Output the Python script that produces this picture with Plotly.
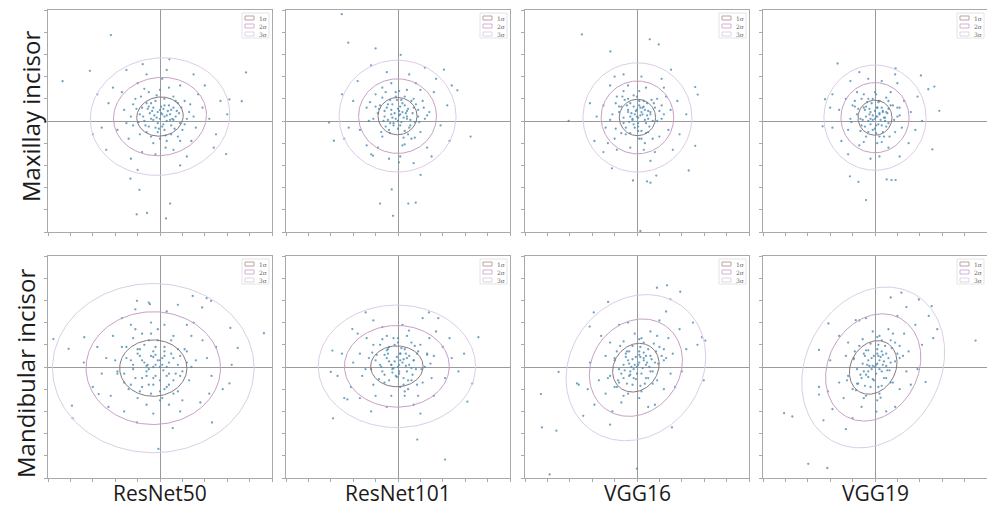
import numpy as np
import plotly.graph_objects as go

# ---------------- data ----------------
row_labels = ["Maxillay incisor", "Mandibular incisor"]
col_labels = ["ResNet50", "ResNet101", "VGG16", "VGG19"]
sigma_labels = ["1σ", "2σ", "3σ"]

# 1-sigma ellipse parameters per panel (row-major order)
ell_cx = [0.0, -0.02, 0.02, 0.0, -0.3, -0.05, -0.05, -0.08]
ell_cy = [0.2, 0.22, 0.16, 0.15, -0.05, 0.03, -0.03, -0.02]
ell_a = [1.04, 0.87, 0.81, 0.76, 1.5, 1.17, 1.15, 1.26]
ell_b = [0.88, 0.84, 0.82, 0.79, 1.27, 0.92, 0.98, 1.0]
ell_ang = [8, 0, 0, 0, 0, 0, 55, 62]

max_resnet50 = [
    (0.1,0.3),(-0.4,0.1),(0.5,0.5),(-0.8,0.6),(0.9,-0.1),(0.2,-0.4),(-0.2,0.9),(1.3,0.4),(-1.2,-0.2),(0.6,1.1),
    (-0.6,-0.5),(0.3,0.0),(-0.1,0.4),(0.7,0.2),(-0.9,0.3),(1.6,-0.3),(-1.6,0.5),(0.0,-0.8),(0.4,1.5),(-0.5,1.3),
    (1.1,0.9),(-1.1,1.0),(0.8,-0.7),(-0.3,-1.0),(1.9,0.6),(-1.9,-0.4),(0.2,0.7),(-0.7,0.0),(0.5,-0.2),(-0.3,0.6),
    (1.4,-0.9),(-1.4,-0.8),(2.2,0.1),(-2.3,0.8),(0.1,1.9),(-0.2,-1.5),(0.9,1.6),(-1.0,1.7),(1.7,1.2),(-1.7,1.3),
    (0.6,-1.3),(-0.8,-1.4),(2.5,-0.6),(-2.6,-0.3),(0.3,2.3),(-0.6,2.1),(1.2,-1.6),(-1.3,-1.7),(2.0,1.6),(-2.1,1.5),
    (0.0,0.1),(0.2,0.2),(-0.1,-0.1),(0.35,0.45),(-0.25,0.25),(0.15,-0.15),(0.45,0.05),(-0.45,0.35),(0.05,0.65),(0.6,0.6),
    (-0.6,0.8),(0.85,0.35),(-0.95,-0.05),(1.0,-0.4),(-0.1,-0.5),(0.25,-0.65),(-0.5,-0.25),(1.2,0.1),(-1.3,0.2),(0.7,0.9),
    (2.7,0.9),(-2.8,1.2),(1.5,2.1),(-1.5,2.3),(2.4,-1.2),(-2.4,-1.3),(0.9,-2.0),(-1.0,-2.2),(3.0,0.3),(-3.0,-0.6),
    (-2.19,3.87),(-3.13,2.26),(-4.35,1.79),(3.84,2.19),(3.65,0.89),(-0.92,-3.1),(-1.04,-4.21),(-0.58,-4.14),(0.27,-4.39),
    (0.45,-3.72),(-1.32,-2.6),(2.95,-1.49),(3.1,0.97),(0.42,2.78),(-0.77,2.56),
    (0.05,0.35),(-0.15,0.15),(0.3,0.25),(-0.35,0.45),(0.55,0.1),(0.1,-0.25),(-0.55,0.55),(0.4,0.7),(-0.2,-0.3),(0.65,-0.35),
    (-0.75,0.2),(0.2,1.0),(-0.4,0.8),(0.95,0.6),(-1.05,0.55),(0.5,-0.6),(-0.4,-0.7),(0.0,0.5),(0.75,0.45),(-0.65,-0.2),
    (1.1,-0.15),(-0.15,1.15),(0.3,-0.9),(-1.2,0.75),(1.35,0.75),(-0.85,1.1),(0.9,-0.9),(-0.05,-0.35),(0.45,0.3),(-0.3,0.05),
    (0.15,0.55),(0.6,0.05),(-0.5,0.65),(0.8,0.8),(-0.9,-0.6),(1.5,0.2),(-1.5,-0.1),(0.0,1.4),(0.25,-1.2),(-0.7,1.45),
]
max_resnet101 = [
    (0.1,0.3),(-0.3,0.5),(0.4,0.1),(-0.6,0.2),(0.2,0.8),(0.7,0.6),(-0.2,-0.2),(0.5,-0.3),(-0.8,0.7),(0.9,0.2),
    (0.0,0.0),(-0.4,-0.4),(0.3,1.1),(-0.1,1.3),(1.1,0.9),(-1.1,0.1),(0.6,-0.8),(-0.7,-0.7),(1.4,0.4),(-1.4,0.6),
    (0.2,-1.1),(-0.3,1.7),(1.0,-0.5),(-1.0,1.2),(1.6,1.3),(-1.7,-0.4),(0.8,1.7),(-0.9,-1.2),(1.9,-0.2),(-2.0,0.9),
    (0.5,2.1),(-0.5,2.2),(1.3,-1.2),(-1.4,-1.1),(2.2,0.7),(-2.2,-0.3),(0.1,-1.6),(1.7,1.9),(-1.8,1.8),(0.05,0.45),
    (0.25,0.15),(-0.15,0.35),(0.45,0.55),(-0.45,0.05),(0.15,-0.05),(0.35,0.35),(-0.25,0.75),(0.6,0.9),(-0.6,0.45),(0.75,-0.05),
    (-0.05,0.95),(0.3,-0.45),(-0.35,-0.1),(0.9,0.5),(-0.9,0.35),(1.2,0.1),(-1.25,0.85),(0.4,1.4),(-0.7,1.5),(1.0,1.4),
    (2.4,1.6),(-2.5,1.2),(1.5,-1.6),(-1.2,-1.5),(0.7,-1.9),(-0.4,-1.7),(2.3,-0.9),(-2.4,-0.8),(1.2,2.4),(-1.2,2.5),
    (-2.51,4.81),(-2.22,3.53),(-1.0,3.27),(0.12,2.98),(2.05,2.31),(3.24,-0.7),(-3.08,-0.07),(-2.86,-0.89),(-0.28,-3.08),
    (-0.8,-3.72),(0.46,-3.72),(0.79,-3.68),(-0.22,-4.27),(1.01,-2.43),(-1.12,-1.56),(0.04,-1.86),(2.65,1.38),
    (0.05,0.25),(-0.1,0.1),(0.2,0.4),(-0.3,0.3),(0.4,0.2),(0.1,-0.2),(-0.5,0.6),(0.3,0.7),(-0.2,-0.1),(0.55,-0.2),
    (-0.65,0.0),(0.15,0.95),(-0.35,0.95),(0.8,0.75),(-0.85,0.55),(0.45,-0.6),(-0.35,-0.55),(0.0,0.55),(0.65,0.35),(-0.55,-0.25),
    (0.95,-0.05),(-0.1,1.1),(0.25,-0.75),(-1.0,0.65),(1.15,0.6),(-0.7,1.05),(0.75,-0.75),(0.0,-0.35),(0.4,0.45),(-0.25,0.15),
    (0.1,0.65),(0.55,0.05),(-0.45,0.75),(0.7,1.0),(-0.75,-0.5),(1.3,0.25),(-1.3,0.0),(0.05,1.35),(0.3,-1.05),(-0.55,1.3),
]
max_vgg16 = [
    (0.0,0.2),(0.2,0.4),(-0.2,0.1),(0.4,-0.1),(-0.4,0.5),(0.1,0.7),(-0.1,-0.3),(0.6,0.3),(-0.6,-0.1),(0.3,0.9),
    (-0.3,0.8),(0.8,0.6),(-0.8,0.4),(0.5,-0.5),(-0.5,-0.6),(0.0,1.1),(0.1,-0.8),(1.1,0.1),(-1.1,0.3),(0.9,1.0),
    (-0.9,1.1),(1.0,-0.7),(-1.0,-0.8),(0.4,1.5),(-0.4,1.6),(1.5,0.5),(-1.5,0.7),(0.3,-1.3),(-0.3,-1.2),(1.4,-0.4),
    (-1.4,-0.3),(1.2,1.5),(-1.2,1.6),(0.8,-1.4),(-0.9,-1.3),(1.8,0.9),(-1.8,0.2),(0.2,2.0),(-0.6,2.1),(1.9,-0.6),
    (-1.9,-0.9),(0.6,-1.8),(0.15,0.25),(-0.05,0.45),(0.35,0.05),(-0.25,0.35),(0.05,-0.1),(0.25,0.6),(-0.35,-0.05),(0.5,0.45),
    (-0.15,0.65),(0.7,0.0),(-0.7,0.65),(0.2,-0.45),(0.45,0.8),(-0.55,0.95),(1.0,0.45),(-0.95,-0.35),(1.3,1.1),(-1.3,-1.0),
    (2.2,0.3),(-2.1,0.8),(1.1,1.9),(-1.0,2.0),(1.6,-1.3),(-1.5,-1.4),
    (-2.46,3.9),(-1.19,3.13),(0.57,3.68),(0.97,3.45),(1.52,2.31),(2.6,1.53),(2.71,1.19),(-3.05,0.0),(2.31,-2.23),
    (-0.18,-2.68),(0.45,-2.72),(0.6,-2.78),(0.86,-2.46),(-1.12,-2.13),(0.15,-4.95),(2.6,-1.12),
    (0.05,0.15),(-0.1,0.3),(0.25,0.3),(-0.3,0.2),(0.45,0.25),(0.05,-0.25),(-0.45,0.7),(0.3,0.65),(-0.15,-0.15),(0.55,-0.25),
    (-0.6,0.15),(0.1,0.9),(-0.4,1.0),(0.75,0.8),(-0.8,0.65),(0.4,-0.55),(-0.3,-0.55),(0.0,0.5),(0.6,0.4),(-0.5,-0.3),
    (0.9,0.0),(-0.15,1.15),(0.2,-0.8),(-0.95,0.8),(1.1,0.7),(-0.65,1.1),(0.7,-0.8),(0.05,-0.45),(0.35,0.5),(-0.2,0.05),
    (0.15,0.6),(0.5,0.1),(-0.4,0.4),(0.65,0.95),(-0.7,-0.55),(1.2,0.3),(-1.2,0.05),(0.1,1.35),(0.35,-1.0),(-0.6,1.35),
]
max_vgg19 = [
    (0.0,0.1),(0.2,0.3),(-0.2,0.4),(0.3,-0.2),(-0.3,0.0),(0.1,0.6),(-0.1,-0.4),(0.5,0.4),(-0.5,0.6),(0.6,-0.1),
    (-0.6,-0.2),(0.2,0.9),(-0.3,1.0),(0.8,0.7),(-0.8,0.3),(0.4,-0.7),(-0.4,-0.7),(1.0,0.2),(-1.0,0.7),(0.0,1.3),
    (0.1,-1.0),(1.2,-0.3),(-1.2,-0.4),(0.7,1.3),(-0.8,1.3),(1.3,0.9),(-1.3,1.0),(0.6,-1.2),(-0.7,-1.1),(1.6,0.4),
    (-1.6,0.5),(0.3,1.8),(-0.3,1.9),(1.5,-1.0),(-1.5,-0.9),(1.0,1.7),(-1.1,1.8),(0.2,-1.6),(-0.2,-1.7),(1.9,1.1),
    (-1.9,1.2),(1.8,-0.4),(-1.9,-0.3),(0.1,0.2),(-0.1,0.25),(0.25,0.05),(-0.25,0.55),(0.35,0.45),(-0.4,0.2),(0.15,-0.15),
    (0.45,0.15),(-0.15,0.8),(0.6,0.55),(-0.65,0.1),(0.05,-0.55),(0.9,-0.5),(-0.9,0.9),(1.1,0.6),(-1.05,-0.05),(0.5,1.05),
    (-0.5,-0.95),(2.1,0.0),(-2.0,0.6),(0.9,2.1),(-0.7,2.2),(1.1,-1.6),(-1.2,-1.5),
    (-1.67,2.59),(0.92,2.37),(2.05,2.05),(2.65,1.55),(2.87,0.46),(2.56,-1.28),(-2.34,-0.24),(-1.12,-2.49),(-0.74,-2.74),
    (0.52,-2.63),(0.74,-2.66),(0.92,-2.66),(-0.4,-3.56),(-2.23,0.98),(2.38,1.43),
    (0.05,0.2),(-0.1,0.05),(0.2,0.35),(-0.25,0.3),(0.4,0.15),(0.05,-0.2),(-0.45,0.5),(0.3,0.6),(-0.2,-0.15),(0.5,-0.25),
    (-0.55,0.05),(0.15,0.85),(-0.35,0.85),(0.7,0.7),(-0.75,0.55),(0.35,-0.5),(-0.3,-0.5),(0.0,0.45),(0.55,0.35),(-0.45,-0.25),
    (0.85,0.05),(-0.1,1.0),(0.2,-0.7),(-0.9,0.65),(1.0,0.6),(-0.6,1.0),(0.65,-0.7),(0.0,-0.35),(0.35,0.4),(-0.2,0.1),
    (0.1,0.6),(0.45,0.0),(-0.4,0.65),(0.6,0.9),(-0.65,-0.45),(1.1,0.25),(-1.1,0.1),(0.05,1.2),(0.3,-0.95),(-0.5,1.2),
]
man_resnet50 = [
    (-0.3,0.0),(0.0,0.3),(-0.6,-0.2),(0.3,-0.4),(-0.9,0.5),(0.5,0.6),(-0.2,0.9),(0.8,0.1),(-1.2,-0.1),(-0.5,-0.8),
    (0.2,-1.0),(1.1,0.8),(-1.5,0.9),(0.6,1.4),(-0.8,1.5),(1.3,-0.6),(-1.6,-0.7),(0.0,-1.5),(-1.0,-1.4),(1.6,0.3),
    (-2.0,0.3),(0.2,1.9),(-0.4,2.0),(1.9,1.2),(-2.1,1.4),(1.0,-1.5),(-2.2,-1.3),(-0.3,-2.1),(0.9,-2.0),(2.3,-0.4),
    (-2.6,-0.3),(1.5,2.0),(-1.7,2.2),(2.5,0.9),(-2.8,0.9),(0.3,2.5),(-1.1,2.6),(1.8,-1.6),(-1.6,-2.0),(2.8,-1.0),
    (-3.0,-0.9),(-0.1,0.3),(-0.4,0.5),(0.1,0.1),(-0.7,0.2),(0.4,0.2),(-0.2,-0.4),(0.2,0.7),(-1.0,0.8),(0.7,-0.3),
    (-0.8,-0.5),(0.9,0.5),(-1.3,0.3),(0.4,-0.8),(-0.5,1.2),(1.2,0.2),(-1.4,-1.0),(0.0,-0.6),(-0.3,0.45),(0.15,-0.15),
    (-0.55,0.1),(1.4,1.4),(-1.9,-0.2),(0.6,-1.2),(-0.9,-1.1),(2.1,0.4),(-2.4,0.4),(1.2,1.9),(-1.3,1.9),(0.4,-1.7),
    (-0.6,-1.7),(2.2,-1.2),(-2.3,-1.8),(3.2,0.1),(-3.4,0.2),(0.8,2.8),(-0.5,2.9),
    (-4.76,1.26),(-4.08,0.82),(-3.9,-2.31),(-3.93,-1.74),(-1.03,2.98),(-0.45,2.83),(1.46,3.2),(2.08,3.1),(2.28,2.98),
    (1.88,2.68),(3.14,1.76),(3.47,0.86),(4.64,1.52),(2.32,-2.5),(0.57,-2.75),(-0.07,-3.69),(-1.03,-2.5),(-2.74,-1.22),
    (-3.38,1.34),(3.1,-0.74),
    (-0.2,0.1),(-0.5,-0.1),(0.1,0.4),(-0.8,0.3),(0.3,0.0),(-0.3,-0.5),(-1.0,0.6),(0.2,0.9),(-0.6,-0.4),(0.6,-0.6),
    (-1.2,0.1),(-0.1,1.2),(-0.7,1.0),(0.8,0.8),(-1.5,0.4),(0.3,-0.9),(-0.8,-0.9),(-0.3,0.7),(0.6,0.4),(-1.1,-0.5),
    (1.0,-0.2),(-0.4,1.5),(0.0,-1.1),(-1.7,0.9),(1.2,0.7),(-1.2,1.3),(0.8,-1.1),(-0.3,-0.8),(0.2,0.5),(-0.6,0.05),
    (-0.2,0.55),(0.4,-0.3),(-0.9,0.8),(0.5,1.2),(-1.3,-0.8),(1.4,0.0),(-1.9,-0.3),(-0.1,1.7),(0.1,-1.4),(-1.1,1.7),
    (-0.4,-1.2),(0.9,-0.4),(-1.6,-0.3),(0.0,0.0),
]
man_resnet101 = [
    (0.0,0.0),(0.2,0.2),(-0.3,0.1),(0.4,-0.2),(-0.5,0.4),(0.1,0.6),(-0.1,-0.4),(0.7,0.3),(-0.7,-0.2),(0.3,0.8),
    (-0.4,0.9),(0.9,0.7),(-1.0,0.3),(0.6,-0.6),(-0.6,-0.7),(0.0,1.1),(0.1,-0.9),(1.2,0.0),(-1.3,0.4),(1.0,1.0),
    (-1.1,1.0),(1.1,-0.7),(-1.1,-0.8),(0.4,1.4),(-0.5,1.4),(1.6,0.5),(-1.7,0.6),(0.3,-1.3),(-0.3,-1.3),(1.5,-0.5),
    (-1.6,-0.4),(1.4,1.3),(-1.4,1.3),(0.9,-1.3),(-1.0,-1.3),(2.0,0.9),(-2.0,0.2),(0.2,1.9),(-0.7,1.8),(2.1,-0.5),
    (-2.1,-0.9),(0.7,-1.7),(-0.5,-1.8),(2.4,0.4),(-2.5,0.6),(1.7,1.6),(-1.8,1.5),(1.6,-1.3),(-1.7,-1.4),(0.1,0.3),
    (-0.15,0.25),(0.35,0.05),(-0.25,-0.1),(0.05,-0.2),(0.5,0.5),(-0.45,0.6),(0.25,-0.5),(0.8,-0.1),(-0.8,0.1),(0.6,1.1),
    (-0.2,1.3),(1.3,0.6),(-1.2,-0.1),(0.45,-1.0),(2.7,-0.2),(-2.7,-0.4),(1.1,2.2),(-1.1,2.1),(1.0,-2.1),(-1.2,-2.0),
    (2.3,1.3),(-2.4,-1.4),
    (-1.44,2.46),(1.8,2.2),(1.38,2.46),(3.59,1.34),(2.95,0.6),(-3.0,-0.22),(-2.9,-2.31),(-2.26,-1.46),(0.86,-3.27),
    (2.1,-4.17),(3.1,-1.56),(3.32,-0.74),(0.49,1.64),(-2.04,1.71),(-2.93,0.74),
    (0.05,0.1),(-0.2,-0.05),(0.25,0.35),(-0.4,0.25),(0.5,0.1),(0.05,-0.3),(-0.6,0.55),(0.35,0.6),(-0.25,-0.25),(0.65,-0.35),
    (-0.75,0.0),(0.15,0.85),(-0.45,0.8),(0.85,0.6),(-0.95,0.55),(0.45,-0.6),(-0.4,-0.6),(-0.05,0.45),(0.7,0.3),(-0.6,-0.35),
    (1.05,-0.1),(-0.15,1.0),(0.25,-0.8),(-1.15,0.65),(1.3,0.55),(-0.8,1.0),(0.85,-0.8),(-0.05,-0.45),(0.4,0.4),(-0.3,0.1),
    (0.1,0.6),(0.6,-0.05),(-0.5,0.75),(0.75,0.95),(-0.85,-0.55),(1.45,0.15),(-1.45,-0.1),(0.0,1.3),(0.3,-1.1),(-0.7,1.25),
]
man_vgg16 = [
    (0.0,0.0),(0.3,0.3),(-0.3,-0.2),(0.2,-0.3),(-0.4,0.3),(0.6,0.5),(-0.6,-0.5),(0.1,0.7),(-0.2,-0.8),(0.8,0.2),
    (-0.8,-0.1),(0.5,-0.5),(-0.5,0.6),(1.0,0.9),(-1.0,-0.9),(0.3,1.1),(-0.4,-1.2),(1.2,0.3),(-1.2,-0.4),(0.9,-0.6),
    (-0.9,0.7),(1.4,1.3),(-1.4,-1.2),(0.6,1.6),(-0.7,-1.6),(1.6,0.6),(-1.7,-0.6),(1.2,-1.0),(-1.2,1.1),(0.1,-1.4),
    (-0.1,1.5),(1.9,1.7),(-1.9,-1.7),(1.0,2.1),(-1.1,-2.0),(2.2,0.8),(-2.2,-1.0),(1.7,-0.9),(-1.6,1.4),(0.5,-1.8),
    (-0.4,2.0),(2.5,2.0),(-2.4,-2.2),(0.1,0.2),(-0.1,0.1),(0.25,-0.05),(-0.2,0.35),(0.4,0.1),(-0.35,-0.4),(0.15,0.45),
    (0.5,0.8),(-0.6,0.1),(0.7,-0.2),(-0.15,-0.5),(0.35,-0.75),(-0.8,-0.7),(1.1,0.5),(-1.0,0.3),(0.9,1.4),(-0.6,-1.3),
    (1.5,-0.3),(-1.4,0.5),(0.2,1.3),(2.0,-0.2),(-2.1,0.2),(1.3,2.5),(-1.2,-2.6),(2.7,1.0),(-2.6,-0.8),(0.8,-1.7),
    (-0.8,1.9),
    (0.89,3.57),(1.34,3.68),(1.93,3.39),(-1.29,2.93),(-1.93,2.46),(-2.11,1.82),(2.9,1.34),(3.05,1.19),(-3.5,-0.22),
    (-4.29,-1.22),(-4.24,-2.72),(-3.6,-2.87),(-3.9,-4.84),(0.0,-4.58),(1.56,-2.72),(2.98,-0.6),(-2.68,-0.74),(1.49,3.05),
    (0.05,0.1),(-0.15,-0.1),(0.3,0.4),(-0.35,0.15),(0.45,0.2),(0.0,-0.3),(-0.5,0.45),(0.3,0.65),(-0.3,-0.35),(0.6,-0.2),
    (-0.7,-0.3),(0.15,0.9),(-0.35,0.7),(0.85,0.7),(-0.85,-0.6),(0.4,-0.5),(-0.45,-0.75),(-0.05,0.45),(0.65,0.35),(-0.55,-0.15),
    (0.95,0.15),(-0.2,0.95),(0.15,-0.85),(-1.0,0.4),(1.2,0.8),(-0.75,0.95),(0.7,-0.75),(-0.05,-0.55),(0.4,0.5),(-0.25,0.0),
    (0.1,0.55),(0.55,0.0),(-0.45,0.7),(0.75,1.05),(-0.9,-0.9),(1.3,0.4),(-1.3,-0.5),(0.1,1.25),(0.2,-1.1),(-0.6,1.15),
]
man_vgg19 = [
    (0.0,0.0),(0.2,0.3),(-0.3,-0.2),(0.3,-0.2),(-0.3,0.3),(0.5,0.6),(-0.6,-0.5),(0.1,0.8),(-0.2,-0.9),(0.7,0.2),
    (-0.8,-0.1),(0.5,-0.5),(-0.5,0.6),(0.9,1.1),(-1.0,-1.0),(0.3,1.2),(-0.4,-1.3),(1.1,0.4),(-1.2,-0.4),(0.8,-0.7),
    (-0.9,0.7),(1.3,1.5),(-1.4,-1.4),(0.6,1.7),(-0.6,-1.8),(1.5,0.7),(-1.6,-0.7),(1.1,-1.0),(-1.2,1.1),(0.1,-1.5),
    (-0.1,1.6),(1.8,1.9),(-1.9,-1.9),(1.0,2.3),(-1.0,-2.3),(2.1,1.0),(-2.1,-1.1),(1.6,-0.8),(-1.6,1.4),(0.5,-2.0),
    (-0.4,2.2),(2.4,2.3),(-2.3,-2.4),(0.1,0.15),(-0.1,0.05),(0.2,-0.1),(-0.15,0.4),(0.35,0.1),(-0.4,-0.35),(0.15,0.5),
    (0.45,0.95),(-0.55,0.15),(0.65,-0.15),(-0.1,-0.55),(0.3,-0.85),(-0.75,-0.75),(1.0,0.6),(-0.95,0.35),(0.8,1.5),(-0.5,-1.4),
    (1.4,-0.2),(-1.3,0.5),(0.2,1.4),(1.9,-0.1),(-2.0,0.3),(1.4,2.7),(-1.3,-2.8),(2.6,1.3),(-2.5,-0.9),(0.9,-1.8),
    (-0.7,2.1),
    (0.7,3.13),(1.18,3.35),(1.96,3.04),(2.53,2.74),(2.78,1.7),(4.49,1.19),(-0.86,2.11),(-2.08,1.96),(-2.5,0.77),
    (-4.06,-2.08),(-3.69,-2.23),(-2.98,-4.36),(-2.13,-4.55),(2.26,-0.68),(0.25,-1.38),(0.06,-2.01),(-2.5,-1.24),
    (0.05,0.1),(-0.15,-0.1),(0.25,0.45),(-0.35,0.1),(0.4,0.25),(0.05,-0.3),(-0.45,0.5),(0.3,0.7),(-0.3,-0.45),(0.55,-0.15),
    (-0.65,-0.35),(0.15,1.0),(-0.3,0.75),(0.75,0.85),(-0.8,-0.75),(0.4,-0.5),(-0.45,-0.85),(-0.05,0.5),(0.6,0.4),(-0.5,-0.2),
    (0.9,0.25),(-0.2,1.05),(0.15,-0.9),(-0.95,0.4),(1.1,0.95),(-0.7,0.95),(0.7,-0.7),(-0.05,-0.6),(0.35,0.55),(-0.25,0.05),
    (0.1,0.6),(0.5,0.05),(-0.4,0.75),(0.7,1.2),(-0.85,-1.05),(1.25,0.5),(-1.25,-0.6),(0.1,1.35),(0.2,-1.2),(-0.55,1.25),
]
panel_points = [max_resnet50, max_resnet101, max_vgg16, max_vgg19,
                man_resnet50, man_resnet101, man_vgg16, man_vgg19]

# ---------------- styling / layout ----------------
W, H = 987, 511
lefts = [48, 286, 525, 763]
tops = [10, 256]
PW, PH = 224, 222
ell_colors = ["#85787f", "#c7a0c4", "#dccde6"]
patch_edges = ["#b9a3a0", "#d9acd3", "#ddd3e6"]
frame_col = "#a9a9a9"
pt_color = "rgba(75,140,180,0.8)"
row_x = [31, 25]
row_yc = [117, 374]

fig = go.Figure()
shapes, annots = [], []
t = np.linspace(0, 2 * np.pi, 181)

for i, pts in enumerate(panel_points):
    r, c = divmod(i, 4)
    k = i + 1
    xa = "x" if k == 1 else f"x{k}"
    ya = "y" if k == 1 else f"y{k}"
    xs = [p[0] for p in pts]
    ys = [p[1] for p in pts]
    fig.add_trace(go.Scatter(x=xs, y=ys, mode="markers", xaxis=xa, yaxis=ya,
                             marker=dict(size=2.3, color=pt_color, line=dict(width=0)),
                             showlegend=False, hoverinfo="skip"))
    th = np.deg2rad(ell_ang[i])
    for n in (3, 2, 1):
        a, b = n * ell_a[i], n * ell_b[i]
        ex = ell_cx[i] + a * np.cos(t) * np.cos(th) - b * np.sin(t) * np.sin(th)
        ey = ell_cy[i] + a * np.cos(t) * np.sin(th) + b * np.sin(t) * np.cos(th)
        fig.add_trace(go.Scatter(x=ex, y=ey, mode="lines", xaxis=xa, yaxis=ya,
                                 line=dict(color=ell_colors[n - 1], width=1),
                                 showlegend=False, hoverinfo="skip"))
    x0, y0 = lefts[c], tops[r]
    dom_x = [x0 / W, (x0 + PW) / W]
    dom_y = [1 - (y0 + PH) / H, 1 - y0 / H]
    axcommon = dict(range=[-5, 5], dtick=1, tick0=-5, ticks="outside", ticklen=3, tickwidth=1,
                    tickcolor=frame_col, showticklabels=False, showgrid=False,
                    zeroline=True, zerolinecolor="#9a9a9a", zerolinewidth=1,
                    showline=True, linecolor=frame_col, linewidth=1, mirror=True, fixedrange=True)
    fig.layout[f"xaxis{k if k > 1 else ''}"] = dict(domain=dom_x, anchor=ya, **axcommon)
    fig.layout[f"yaxis{k if k > 1 else ''}"] = dict(domain=dom_y, anchor=xa, **axcommon)

    # mini legend box (top right of panel)
    R = x0 + PW
    shapes.append(dict(type="rect", xref="paper", yref="paper",
                       x0=(R - 30) / W, x1=(R - 3) / W, y0=1 - (y0 + 28) / H, y1=1 - (y0 + 3) / H,
                       line=dict(color="#e4e4e4", width=1), fillcolor="white"))
    for j in range(3):
        yc = y0 + 8 + 8 * j
        shapes.append(dict(type="rect", xref="paper", yref="paper",
                           x0=(R - 27) / W, x1=(R - 18) / W, y0=1 - (yc + 2) / H, y1=1 - (yc - 2) / H,
                           line=dict(color=patch_edges[j], width=1), fillcolor="white"))
        annots.append(dict(x=(R - 15) / W, y=1 - yc / H, xref="paper", yref="paper",
                           text=sigma_labels[j], showarrow=False, xanchor="left", yanchor="middle",
                           font=dict(size=6, color="#666", family="DejaVu Serif")))

for r, lab in enumerate(row_labels):
    annots.append(dict(x=row_x[r] / W, y=1 - row_yc[r] / H, xref="paper", yref="paper",
                       text=lab, textangle=-90, showarrow=False, xanchor="center", yanchor="middle",
                       font=dict(size=24, color="#1a1a1a", family="Open Sans")))
for c, lab in enumerate(col_labels):
    annots.append(dict(x=(lefts[c] + PW / 2) / W, y=1 - 493 / H, xref="paper", yref="paper",
                       text=lab, showarrow=False, xanchor="center", yanchor="middle",
                       font=dict(size=21, color="#1a1a1a", family="Open Sans")))

fig.update_layout(width=W, height=H, margin=dict(l=0, r=0, t=0, b=0),
                  paper_bgcolor="white", plot_bgcolor="white",
                  shapes=shapes, annotations=annots, showlegend=False)

fig.write_html("out.html")
